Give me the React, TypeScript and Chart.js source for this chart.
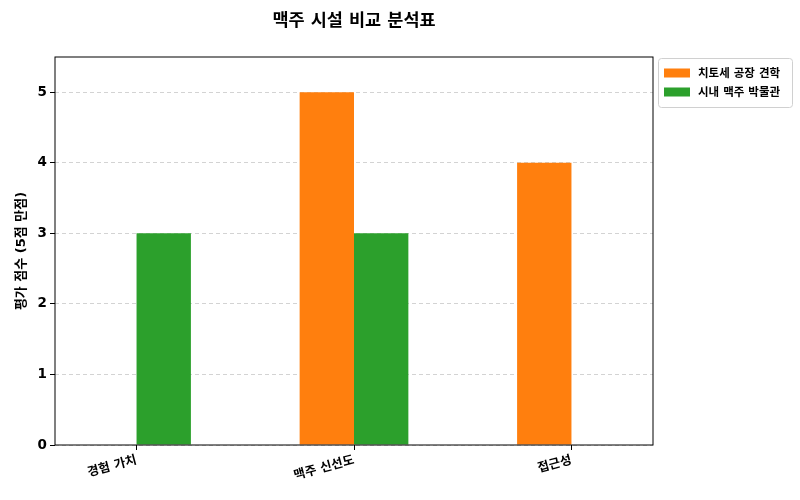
import { useEffect, useRef } from "react"
import { Chart, registerables } from "chart.js"

Chart.register(...registerables)

const categories = ["경험 가치", "맥주 신선도", "접근성"]
const factoryTour = [0, 5, 4]
const beerMuseum = [3, 3, 0]
const seriesNames = ["치토세 공장 견학", "시내 맥주 박물관"]
const yTicks = [0, 1, 2, 3, 4, 5]

const FONT = '"DejaVu Sans", "Noto Sans CJK KR", sans-serif'

// 테두리 + 제목 + 범례 (matplotlib 스타일)
const framePlugin = {
  id: "frame",
  afterDraw(chart: any) {
    const { ctx, chartArea } = chart
    ctx.save()
    ctx.strokeStyle = "#000"
    ctx.lineWidth = 1
    ctx.strokeRect(chartArea.left, chartArea.top, chartArea.right - chartArea.left, chartArea.bottom - chartArea.top)

    // title
    ctx.fillStyle = "#000"
    ctx.font = `bold 17.5px ${FONT}`
    ctx.textAlign = "center"
    ctx.textBaseline = "middle"
    ctx.fillText("맥주 시설 비교 분석표", (chartArea.left + chartArea.right) / 2, 21)

    // legend
    const lx = chartArea.right + 5
    const ly = 58
    const lw = 134
    const lh = 49
    ctx.strokeStyle = "#d0d0d0"
    ctx.lineWidth = 1
    ctx.beginPath()
    ctx.roundRect(lx + 0.5, ly + 0.5, lw, lh, 3)
    ctx.fillStyle = "rgba(255,255,255,0.8)"
    ctx.fill()
    ctx.stroke()
    ctx.font = `bold 11.5px ${FONT}`
    ctx.textAlign = "left"
    chart.data.datasets.forEach((ds: any, i: number) => {
      const cy = ly + 15 + i * 19
      ctx.fillStyle = ds.backgroundColor
      ctx.fillRect(lx + 6, cy - 4.5, 26, 9)
      ctx.fillStyle = "#000"
      ctx.fillText(ds.label, lx + 40, cy + 1)
    })
    ctx.restore()
  },
}

export default function App() {
  const chartRef = useRef<HTMLCanvasElement>(null)
  const chartInstance = useRef<Chart | null>(null)

  useEffect(() => {
    document.body.style.margin = "0"
    if (!chartRef.current) return
    if (chartInstance.current) chartInstance.current.destroy()

    const ctx = chartRef.current.getContext("2d")
    if (!ctx) return

    chartInstance.current = new Chart(ctx, {
      type: "bar",
      data: {
        datasets: [
          {
            label: seriesNames[0],
            data: factoryTour.map((v, i) => ({ x: i, y: v })),
            backgroundColor: "#ff7f0e",
            borderWidth: 0,
            categoryPercentage: 0.5,
            barPercentage: 1.0,
          },
          {
            label: seriesNames[1],
            data: beerMuseum.map((v, i) => ({ x: i, y: v })),
            backgroundColor: "#2ca02c",
            borderWidth: 0,
            categoryPercentage: 0.5,
            barPercentage: 1.0,
          },
        ],
      },
      options: {
        responsive: false,
        animation: false,
        layout: {
          padding: { top: 57, right: 147, left: 0, bottom: 0 },
        },
        plugins: {
          legend: { display: false },
          title: { display: false },
          tooltip: { enabled: false },
        },
        scales: {
          x: {
            type: "linear",
            offset: false,
            min: -0.375,
            max: 2.375,
            border: { display: false },
            grid: {
              drawOnChartArea: false,
              offset: false,
              tickLength: 5,
              tickColor: "#000",
            },
            afterBuildTicks: (scale: any) => {
              scale.ticks = categories.map((_, i) => ({ value: i }))
            },
            ticks: {
              minRotation: 15,
              maxRotation: 15,
              color: "#000",
              padding: 3,
              font: { family: FONT, size: 12.5, weight: "bold" },
              callback: (v: any) => categories[v] ?? "",
            },
            afterFit: (scale: any) => {
              scale.height = 55
            },
          },
          y: {
            min: 0,
            max: 5.5,
            border: { display: false, dash: [4, 3] },
            grid: {
              color: "#d3d3d3",
              tickBorderDash: [],
              tickLength: 5,
              tickColor: "#000",
            } as any,
            ticks: {
              stepSize: 1,
              color: "#000",
              padding: 3,
              font: { family: FONT, size: 13.5, weight: "bold" },
            },
            afterBuildTicks: (scale: any) => {
              scale.ticks = yTicks.map((v) => ({ value: v }))
            },
            title: {
              display: true,
              text: "평가 점수 (5점 만점)",
              color: "#000",
              padding: { top: 14, bottom: 0 },
              font: { family: FONT, size: 13, weight: "bold" },
            },
            afterFit: (scale: any) => {
              scale.width = 55
            },
          },
        },
      },
      plugins: [framePlugin],
    })

    return () => {
      if (chartInstance.current) {
        chartInstance.current.destroy()
        chartInstance.current = null
      }
    }
  }, [])

  return (
    <div style={{ width: 800, height: 500 }}>
      <canvas ref={chartRef} width={800} height={500} style={{ width: 800, height: 500 }} />
    </div>
  )
}
